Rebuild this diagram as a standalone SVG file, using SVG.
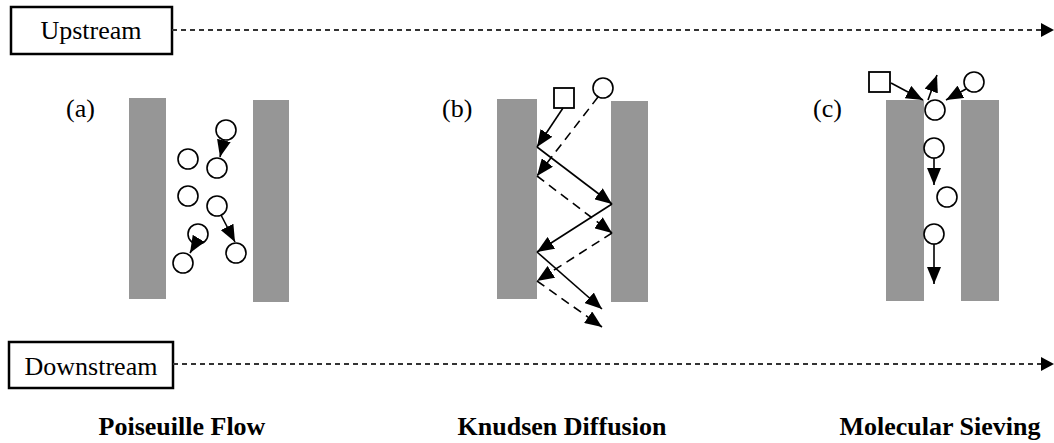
<svg xmlns="http://www.w3.org/2000/svg" width="1054" height="443" viewBox="0 0 1054 443">
<defs>
<marker id="ah" markerUnits="userSpaceOnUse" markerWidth="17" markerHeight="14" refX="17" refY="7" orient="auto">
<path d="M0,0 L17,7 L0,14 z" fill="#000"/>
</marker>
<marker id="ahg" markerUnits="userSpaceOnUse" markerWidth="13" markerHeight="14" refX="13" refY="7" orient="auto">
<path d="M0,0 L13,7 L0,14 z" fill="#000"/>
</marker>
<style>
.lbl{font-family:"Liberation Serif","Times New Roman",serif;font-size:26px;fill:#000}
.ttl{font-family:"Liberation Serif","Times New Roman",serif;font-size:26px;font-weight:bold;fill:#000}
.box{fill:#fff;stroke:#000;stroke-width:2.5}
.wall{fill:#969696}
.mol{fill:#fff;stroke:#000;stroke-width:1.6}
.sq{fill:#fff;stroke:#000;stroke-width:1.8}
.flow{stroke:#333;stroke-width:2.2;stroke-dasharray:5 4;fill:none}
.a{stroke:#000;stroke-width:1.6;fill:none;marker-end:url(#ah)}
.d{stroke:#000;stroke-width:1.6;fill:none;stroke-dasharray:9 6;marker-end:url(#ah)}
</style>
</defs>
<g id="upstream">
<rect class="box" x="11" y="7" width="161" height="47"/>
<text class="lbl" x="91" y="39" text-anchor="middle">Upstream</text>
</g>
<g id="downstream">
<rect class="box" x="9" y="342" width="164" height="46"/>
<text class="lbl" x="91" y="375" text-anchor="middle">Downstream</text>
</g>
<g id="panel-a">
<text class="lbl" x="66" y="117">(a)</text>
<rect class="wall" x="129" y="98" width="37" height="201"/>
<rect class="wall" x="253" y="100" width="36" height="202"/>
<circle class="mol" cx="226" cy="130" r="10"/>
<circle class="mol" cx="188" cy="159" r="10"/>
<circle class="mol" cx="217" cy="168" r="10"/>
<circle class="mol" cx="188" cy="196" r="10"/>
<circle class="mol" cx="217" cy="206" r="10"/>
<circle class="mol" cx="198" cy="234" r="10"/>
<circle class="mol" cx="183" cy="263" r="10"/>
<circle class="mol" cx="236" cy="253" r="10"/>
<text class="ttl" x="182" y="435" text-anchor="middle">Poiseuille Flow</text>
</g>
<g id="panel-b">
<text class="lbl" x="442" y="117">(b)</text>
<rect class="wall" x="497" y="99" width="40" height="200"/>
<rect class="wall" x="611" y="101" width="37" height="201"/>
<rect class="sq" x="554" y="88" width="20" height="20"/>
<circle class="mol" cx="603" cy="88" r="10"/>
<text class="ttl" x="562" y="435" text-anchor="middle">Knudsen Diffusion</text>
</g>
<g id="panel-c">
<text class="lbl" x="813" y="117">(c)</text>
<rect class="wall" x="886" y="100" width="38" height="201"/>
<rect class="wall" x="961" y="100" width="38" height="201"/>
<rect class="sq" x="869" y="72" width="21" height="20"/>
<circle class="mol" cx="974" cy="82" r="10"/>
<circle class="mol" cx="935" cy="110" r="10"/>
<circle class="mol" cx="934" cy="148" r="10"/>
<circle class="mol" cx="947" cy="197" r="10"/>
<circle class="mol" cx="934" cy="234" r="10"/>
<text class="ttl" x="940" y="435" text-anchor="middle">Molecular Sieving</text>
</g>
<g id="connectors">
<line class="flow" x1="172" y1="30" x2="1054" y2="30" marker-end="url(#ahg)"/>
<line class="flow" x1="173" y1="364" x2="1054" y2="364" marker-end="url(#ahg)"/>
<line class="a" x1="224" y1="140" x2="220" y2="157"/>
<line class="a" x1="221" y1="215" x2="235" y2="242"/>
<line class="a" x1="196" y1="243" x2="190" y2="253"/>
<line class="a" x1="563" y1="108" x2="537" y2="147"/>
<line class="a" x1="537" y1="147" x2="612" y2="204"/>
<line class="a" x1="612" y1="204" x2="537" y2="252"/>
<line class="a" x1="537" y1="252" x2="602" y2="309"/>
<line class="d" x1="598" y1="97" x2="537" y2="176"/>
<line class="d" x1="537" y1="176" x2="612" y2="233"/>
<line class="d" x1="612" y1="233" x2="537" y2="281"/>
<line class="d" x1="537" y1="281" x2="602" y2="327"/>
<line class="a" x1="891" y1="83" x2="923" y2="100"/>
<line class="a" x1="928" y1="100" x2="937" y2="75"/>
<line class="a" x1="966" y1="89" x2="946" y2="100"/>
<line class="a" x1="934" y1="158" x2="934" y2="185"/>
<line class="a" x1="934" y1="244" x2="934" y2="284"/>
</g>
</svg>
